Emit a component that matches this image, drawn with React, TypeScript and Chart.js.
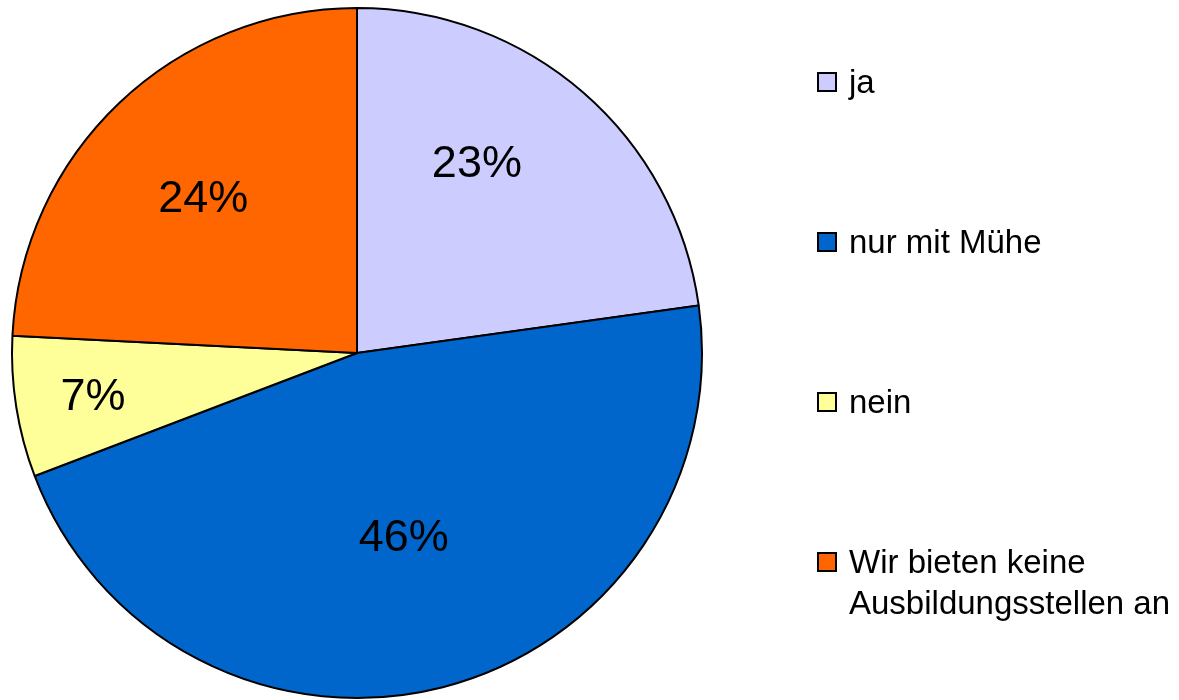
import React, { useEffect, useRef } from "react";
import { Chart, registerables } from "chart.js";

Chart.register(...registerables);

const categories: (string | string[])[] = [
  "ja",
  "nur mit Mühe",
  "nein",
  ["Wir bieten keine", "Ausbildungsstellen an"],
];
const shares = [22.8, 46.4, 6.6, 24.2];
const colors = ["#CCCCFF", "#0066CC", "#FFFF99", "#FF6600"];

// label placement relative to each arc: [angle shift in degrees, radius fraction]
const labelPlacement = [
  [-9, 0.655],
  [0, 0.545],
  [0, 0.775],
  [-1, 0.635],
];

const FONT = '"Liberation Sans", Arial, sans-serif';

const labelPlugin = {
  id: "sliceLabels",
  afterDatasetsDraw(chart: any) {
    const { ctx } = chart;
    const meta = chart.getDatasetMeta(0);
    const data = chart.data.datasets[0].data as number[];
    const total = data.reduce((a, b) => a + b, 0);
    ctx.save();
    ctx.font = `45px ${FONT}`;
    ctx.fillStyle = "#000";
    ctx.textAlign = "center";
    ctx.textBaseline = "middle";
    meta.data.forEach((arc: any, i: number) => {
      const { x, y, startAngle, endAngle, outerRadius } = arc.getProps(
        ["x", "y", "startAngle", "endAngle", "outerRadius"],
        true
      );
      const [shift, frac] = labelPlacement[i];
      const mid = (startAngle + endAngle) / 2 + (shift * Math.PI) / 180;
      const r = outerRadius * frac;
      const pct = Math.round((data[i] / total) * 100);
      ctx.fillText(`${pct}%`, x + Math.cos(mid) * r, y + Math.sin(mid) * r + 3);
    });
    ctx.restore();
  },
};

const legendPlugin = {
  id: "sideLegend",
  afterDraw(chart: any) {
    const { ctx } = chart;
    const labels = chart.data.labels as (string | string[])[];
    const bg = chart.data.datasets[0].backgroundColor as string[];
    const boxX = 818;
    const textX = 849;
    const firstBaseline = 93;
    const step = 160;
    const lineH = 41;
    ctx.save();
    ctx.font = `33px ${FONT}`;
    ctx.textBaseline = "alphabetic";
    ctx.textAlign = "left";
    labels.forEach((lab, i) => {
      const base = firstBaseline + i * step;
      ctx.fillStyle = bg[i];
      ctx.fillRect(boxX, base - 20, 18, 18);
      ctx.lineWidth = 2;
      ctx.strokeStyle = "#000";
      ctx.strokeRect(boxX, base - 20, 18, 18);
      ctx.fillStyle = "#000";
      const lines = Array.isArray(lab) ? lab : [lab];
      lines.forEach((ln, j) => ctx.fillText(ln, textX, base + j * lineH));
    });
    ctx.restore();
  },
};

export default function App() {
  const ref = useRef<HTMLCanvasElement | null>(null);
  useEffect(() => {
    document.body.style.margin = "0";
    const chart = new Chart(ref.current!, {
      type: "pie",
      data: {
        labels: categories as any,
        datasets: [
          {
            data: shares,
            backgroundColor: colors,
            borderColor: "#000000",
            borderWidth: 2,
          },
        ],
      },
      options: {
        animation: false,
        responsive: false,
        maintainAspectRatio: false,
        layout: { padding: { left: 11, right: 476, top: 7, bottom: 1 } },
        plugins: {
          legend: { display: false },
          tooltip: { enabled: false },
          title: { display: false },
        },
      },
      plugins: [labelPlugin, legendPlugin],
    });
    return () => chart.destroy();
  }, []);
  return (
    <div style={{ position: "absolute", left: 0, top: 0, width: 1179, height: 700, background: "#fff" }}>
      <canvas ref={ref} width={1179} height={700} style={{ display: "block" }} />
    </div>
  );
}
